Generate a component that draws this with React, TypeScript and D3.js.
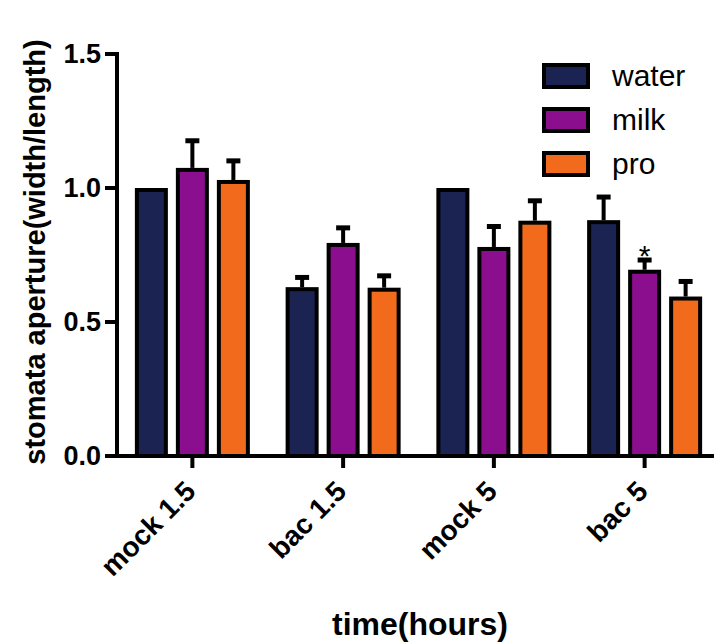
import React from "react";
import * as d3 from "d3";

const categories = ["mock 1.5", "bac 1.5", "mock 5", "bac 5"];
const series = ["water", "milk", "pro"];
const waterValues = [1.0, 0.63, 1.0, 0.88];
const waterErrors = [0, 0.04, 0, 0.09];
const milkValues = [1.075, 0.795, 0.78, 0.695];
const milkErrors = [0.105, 0.06, 0.08, 0.04];
const proValues = [1.03, 0.628, 0.878, 0.595];
const proErrors = [0.075, 0.048, 0.078, 0.06];
const yTicks = [0, 0.5, 1.0, 1.5];
const colors = ["#1a2352", "#8a0e8e", "#f26a1c"];
const annotations = [{ category: "bac 5", series: "milk", text: "*" }];

const W = 714;
const H = 643;

export default function App() {
  const x = d3.scaleBand<string>().domain(categories).range([117, 720]).padding(0);
  const xs = d3.scalePoint<string>().domain(series).range([-41, 41]);
  const y = d3.scaleLinear().domain([0, 1.5]).range([456, 54]);
  const valueTable = [waterValues, milkValues, proValues];
  const errorTable = [waterErrors, milkErrors, proErrors];
  const barW = 29;
  const font = "'Liberation Sans', Arial, sans-serif";

  const bars: React.ReactNode[] = [];
  categories.forEach((cat, ci) => {
    const cx = (x(cat) as number) + x.bandwidth() / 2;
    series.forEach((s, si) => {
      const v = valueTable[si][ci];
      const e = errorTable[si][ci];
      const bx = cx + (xs(s) as number);
      const top = y(v);
      if (e > 0) {
        const ey = y(v + e);
        bars.push(
          <g key={`e-${ci}-${si}`}>
            <line x1={bx} x2={bx} y1={top} y2={ey} stroke="#000" strokeWidth={4} />
            <line x1={bx - 7} x2={bx + 7} y1={ey + 1} y2={ey + 1} stroke="#000" strokeWidth={5} />
          </g>
        );
      }
      bars.push(
        <rect
          key={`b-${ci}-${si}`}
          x={bx - barW / 2}
          y={top + 2}
          width={barW}
          height={y(0) - top - 2}
          fill={colors[si]}
          stroke="#000"
          strokeWidth={4}
        />
      );
    });
  });

  const notes = annotations.map((a, i) => {
    const ci = categories.indexOf(a.category);
    const si = series.indexOf(a.series);
    const cx = (x(a.category) as number) + x.bandwidth() / 2 + (xs(a.series) as number);
    const ey = y(valueTable[si][ci] + errorTable[si][ci]);
    return (
      <text key={`n-${i}`} x={cx} y={ey + 7} textAnchor="middle" fontSize={30} fontFamily={font} fill="#000">
        {a.text}
      </text>
    );
  });

  return (
    <svg width={W} height={H} style={{ position: "absolute", left: 0, top: 0, background: "#fff" }}>
      <rect x={0} y={0} width={W} height={H} fill="#fff" />
      {bars}
      {notes}
      {/* y axis */}
      <line x1={117} x2={117} y1={y(1.5) - 2} y2={y(0) + 2} stroke="#000" strokeWidth={4} />
      {yTicks.map((t) => (
        <g key={`yt-${t}`}>
          <line x1={105} x2={117} y1={y(t)} y2={y(t)} stroke="#000" strokeWidth={4} />
          <text
            x={101}
            y={y(t)}
            dy="0.35em"
            textAnchor="end"
            fontSize={27}
            fontWeight="bold"
            fontFamily={font}
            fill="#000"
          >
            {d3.format(".1f")(t)}
          </text>
        </g>
      ))}
      {/* x axis */}
      <line x1={115} x2={714} y1={y(0)} y2={y(0)} stroke="#000" strokeWidth={4} />
      {categories.map((c) => {
        const cx = (x(c) as number) + x.bandwidth() / 2;
        return (
          <g key={`xt-${c}`}>
            <line x1={cx} x2={cx} y1={y(0)} y2={y(0) + 12} stroke="#000" strokeWidth={4} />
            <text
              transform={`translate(${cx + 5},${493}) rotate(-45)`}
              textAnchor="end"
              fontSize={28}
              fontWeight="bold"
              fontFamily={font}
              fill="#000"
            >
              {c}
            </text>
          </g>
        );
      })}
      <text x={420} y={635} textAnchor="middle" fontSize={32} fontWeight="bold" fontFamily={font} fill="#000">
        time(hours)
      </text>
      <text
        transform={`translate(45,252) rotate(-90)`}
        textAnchor="middle"
        fontSize={29}
        fontWeight="bold"
        fontFamily={font}
        fill="#000"
      >
        stomata aperture(width/length)
      </text>
      {/* legend */}
      {series.map((s, i) => (
        <g key={`lg-${s}`} transform={`translate(0,${i * 44})`}>
          <rect x={544} y={65} width={44} height={22} fill={colors[i]} stroke="#000" strokeWidth={4} />
          <text x={612} y={86} fontSize={30} fontFamily={font} fill="#000">
            {s}
          </text>
        </g>
      ))}
    </svg>
  );
}
